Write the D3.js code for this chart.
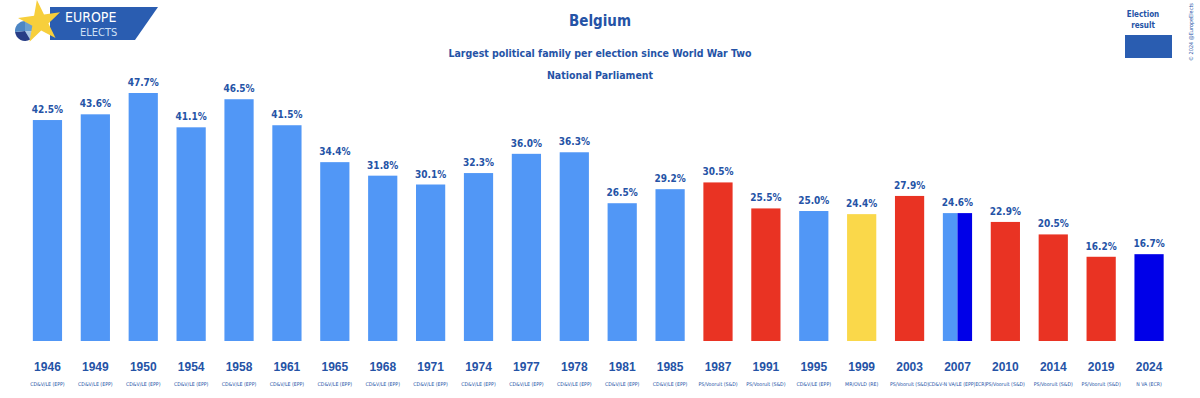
<!DOCTYPE html>
<html><head><meta charset="utf-8">
<script src="https://cdn.jsdelivr.net/npm/d3@7"></script>
<style>
html,body{margin:0;padding:0;background:#fff;}
svg{display:block;font-family:"DejaVu Sans Condensed","DejaVu Sans",sans-serif;font-stretch:condensed;}
</style></head>
<body>
<svg id="chart" width="1200" height="398"></svg>
<script>
const years = ["1946","1949","1950","1954","1958","1961","1965","1968","1971","1974","1977","1978","1981","1985","1987","1991","1995","1999","2003","2007","2010","2014","2019","2024"];
const values = [42.5,43.6,47.7,41.1,46.5,41.5,34.4,31.8,30.1,32.3,36.0,36.3,26.5,29.2,30.5,25.5,25.0,24.4,27.9,24.6,22.9,20.5,16.2,16.7];
const parties = ["CD&V/LE (EPP)","CD&V/LE (EPP)","CD&V/LE (EPP)","CD&V/LE (EPP)","CD&V/LE (EPP)","CD&V/LE (EPP)","CD&V/LE (EPP)","CD&V/LE (EPP)","CD&V/LE (EPP)","CD&V/LE (EPP)","CD&V/LE (EPP)","CD&V/LE (EPP)","CD&V/LE (EPP)","CD&V/LE (EPP)","PS/Vooruit (S&D)","PS/Vooruit (S&D)","CD&V/LE (EPP)","MR/OVLD (RE)","PS/Vooruit (S&D)","CD&V-N VA/LE (EPP|ECR)","PS/Vooruit (S&D)","PS/Vooruit (S&D)","PS/Vooruit (S&D)","N VA (ECR)"];
// family per bar (a bar may be split between several families)
const families = [["EPP"],["EPP"],["EPP"],["EPP"],["EPP"],["EPP"],["EPP"],["EPP"],["EPP"],["EPP"],["EPP"],["EPP"],["EPP"],["EPP"],["S&D"],["S&D"],["EPP"],["RE"],["S&D"],["EPP","ECR"],["S&D"],["S&D"],["S&D"],["ECR"]];
const familyColors = {"EPP":"#5197f6","S&D":"#e93323","RE":"#fad84a","ECR":"#0000e8"};

const textColor = "#2553a6";
const svg = d3.select("#chart");

const x = d3.scaleBand().domain(years).range([23.5, 1173]).paddingInner(0.39).paddingOuter(0.195);
const y = d3.scaleLinear().domain([0, 47.7]).range([341, 93]);

const data = years.map((yr,i)=>({year:yr, value:values[i], party:parties[i], fam:families[i]}));

// bars
const g = svg.append("g");
data.forEach(d=>{
  const n = d.fam.length;
  const w = x.bandwidth()/n;
  d.fam.forEach((f,k)=>{
    g.append("rect")
      .attr("x", x(d.year)+k*w)
      .attr("y", y(d.value))
      .attr("width", w)
      .attr("height", y(0)-y(d.value))
      .attr("fill", familyColors[f]);
  });
});

// value labels
svg.append("g").selectAll("text").data(data).join("text")
  .attr("x", d=>x(d.year)+x.bandwidth()/2)
  .attr("y", d=>y(d.value)-7)
  .attr("text-anchor","middle")
  .attr("fill", textColor)
  .attr("font-size", 10)
  .attr("font-weight", "bold")
  .text(d=>d.value.toFixed(1)+"%");

// x axis (years)
const xAxis = d3.axisBottom(x).tickSize(0).tickPadding(0);
const ax = svg.append("g").attr("transform","translate(0,371)").call(xAxis);
ax.select(".domain").remove();
ax.selectAll("text").attr("fill",textColor).attr("font-size",12).attr("font-weight","bold").attr("dy",0)
  .attr("font-family","inherit");

// party labels
svg.append("g").selectAll("text").data(data).join("text")
  .attr("x", d=>x(d.year)+x.bandwidth()/2)
  .attr("y", 386)
  .attr("text-anchor","middle")
  .attr("fill", textColor)
  .attr("font-size", 5.2)
  .text(d=>d.party);

// titles
svg.append("text").attr("x",600).attr("y",26).attr("text-anchor","middle").attr("fill",textColor)
  .attr("font-size",15).attr("font-weight","bold").text("Belgium");
svg.append("text").attr("x",600).attr("y",57).attr("text-anchor","middle").attr("fill",textColor)
  .attr("font-size",10.5).attr("font-weight","bold").text("Largest political family per election since World War Two");
svg.append("text").attr("x",600).attr("y",79).attr("text-anchor","middle").attr("fill",textColor)
  .attr("font-size",10.5).attr("font-weight","bold").text("National Parliament");

// legend
svg.append("text").attr("x",1143).attr("y",17).attr("text-anchor","middle").attr("fill",textColor)
  .attr("font-size",8).attr("font-weight","bold").text("Election");
svg.append("text").attr("x",1143).attr("y",28).attr("text-anchor","middle").attr("fill",textColor)
  .attr("font-size",8).attr("font-weight","bold").text("result");
svg.append("rect").attr("x",1125).attr("y",35).attr("width",47).attr("height",23).attr("fill","#2a5db1");

// copyright
svg.append("text").attr("transform","translate(1193,32) rotate(-90)").attr("text-anchor","middle")
  .attr("fill",textColor).attr("font-size",5.5).text("© 2024 @EuropeElects");

// logo
const logo = svg.append("g");
logo.append("path").attr("d","M50,7 L158,7 L135,40 L50,40 Z").attr("fill","#2a5db1");
// pie
const pieC = [25,31], pr = 10;
const arc = d3.arc().innerRadius(0).outerRadius(pr);
const pieParts = [[0,1.6,"#6a9fd1"],[1.6,2.6,"#a9c7e6"],[2.6,4.6,"#273d86"],[4.6,6.2832,"#4d86c4"]];
pieParts.forEach(p=>{
  logo.append("path").attr("transform",`translate(${pieC[0]},${pieC[1]})`)
    .attr("d", arc({startAngle:p[0], endAngle:p[1]})).attr("fill",p[2]);
});
// star
const star = d3.symbol().type(d3.symbolStar).size(560);
logo.append("path").attr("transform","translate(40,22) rotate(-8)").attr("d",star()).attr("fill","#f7cf3c");
logo.append("text").attr("x",65).attr("y",22).attr("fill","#fff").attr("font-size",14).text("EUROPE");
logo.append("text").attr("x",80).attr("y",36).attr("fill","#cfe0f5").attr("font-size",11).text("ELECTS");
</script>
</body></html>
